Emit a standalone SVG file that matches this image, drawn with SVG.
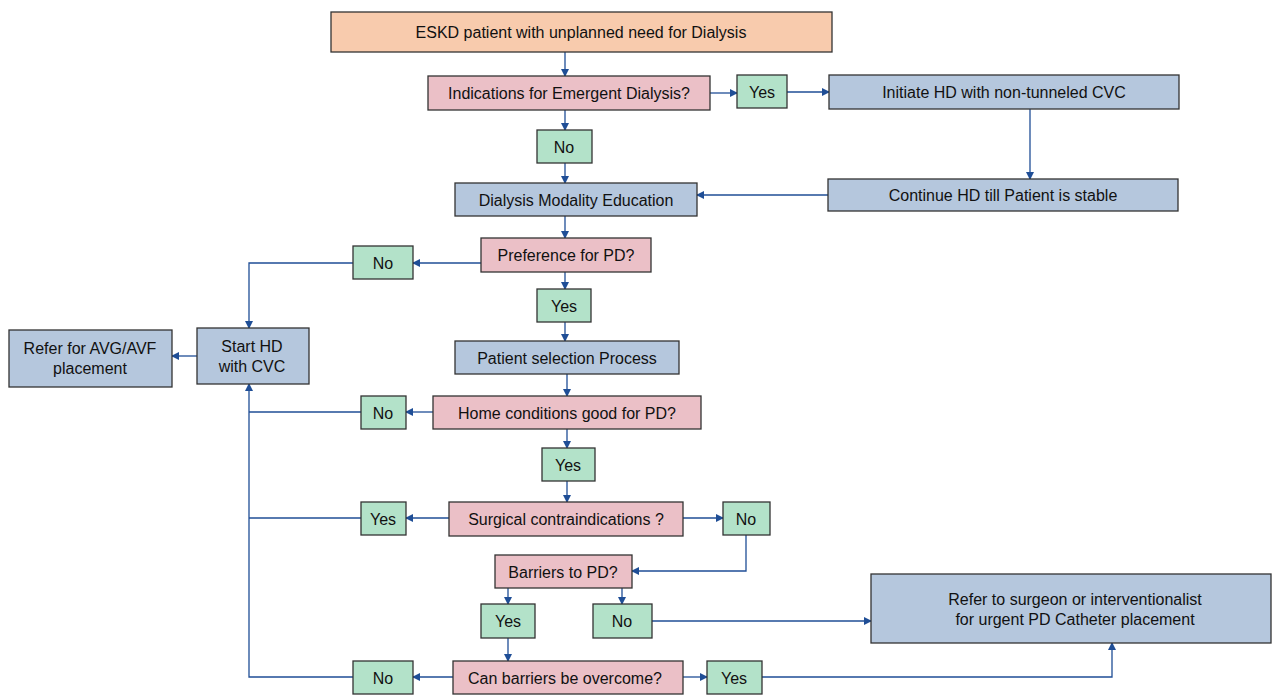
<svg xmlns="http://www.w3.org/2000/svg" width="1272" height="697" viewBox="0 0 1272 697">
<defs>
<marker id="ar" markerWidth="8" markerHeight="8" refX="7" refY="4" orient="auto" markerUnits="userSpaceOnUse">
<path d="M0,0 L8,4 L0,8 Z" fill="#1F4E96"/>
</marker>
<style>
rect{stroke:#333;stroke-width:1.3}
.pe{fill:#F8CBAD}.pk{fill:#EBC0C7}.gr{fill:#B3E2C9}.bl{fill:#B5C7DD}
text{font-family:"Liberation Sans",Arial,sans-serif;font-size:16px;fill:#111;text-anchor:middle;dominant-baseline:central}
.c path{fill:none;stroke:#1F4E96;stroke-width:1.3}
.c .a{marker-end:url(#ar)}
</style>
</defs>
<rect width="1272" height="697" fill="#fff" style="stroke:none"/>
<g class="c" id="connectors">
<path class="a" d="M565,52 V76"/>
<path class="a" d="M710,93 H737"/>
<path class="a" d="M787,92 H829"/>
<path class="a" d="M565,110 V130"/>
<path class="a" d="M565,163 V183"/>
<path class="a" d="M1030,109 V179"/>
<path class="a" d="M828,195 H697"/>
<path class="a" d="M565,216 V238"/>
<path class="a" d="M481,263 H413"/>
<path class="a" d="M353,263 H249 V328"/>
<path class="a" d="M565,272 V289"/>
<path class="a" d="M565,322 V341"/>
<path class="a" d="M197,356 H172"/>
<path class="a" d="M567,374 V396"/>
<path class="a" d="M433,412 H406"/>
<path d="M361,412 H249"/>
<path class="a" d="M567,429 V448"/>
<path class="a" d="M567,481 V502"/>
<path class="a" d="M449,518 H406"/>
<path d="M361,518 H249"/>
<path class="a" d="M683,518 H723"/>
<path class="a" d="M746,535 V571 H632"/>
<path class="a" d="M508,588 V604"/>
<path class="a" d="M622,588 V604"/>
<path class="a" d="M652,621 H871"/>
<path class="a" d="M508,638 V661"/>
<path class="a" d="M453,677 H413"/>
<path class="a" d="M353,677 H249 V384"/>
<path class="a" d="M683,677 H707"/>
<path class="a" d="M762,677 H1112 V643"/>
</g>
<g id="n_start"><rect class="pe" x="331" y="12" width="501" height="40"/><text x="581" y="32">ESKD patient with unplanned need for Dialysis</text></g>
<g id="n_ind"><rect class="pk" x="428" y="76" width="282" height="34"/><text x="569" y="93">Indications for Emergent Dialysis?</text></g>
<g id="n_yes1"><rect class="gr" x="737" y="75" width="50" height="33"/><text x="762" y="92">Yes</text></g>
<g id="n_init"><rect class="bl" x="829" y="75" width="350" height="34"/><text x="1004" y="92">Initiate HD with non-tunneled CVC</text></g>
<g id="n_no1"><rect class="gr" x="537" y="130" width="55" height="33"/><text x="564" y="147">No</text></g>
<g id="n_dme"><rect class="bl" x="455" y="183" width="242" height="33"/><text x="576" y="200">Dialysis Modality Education</text></g>
<g id="n_cont"><rect class="bl" x="828" y="179" width="350" height="32"/><text x="1003" y="195">Continue HD till Patient is stable</text></g>
<g id="n_pref"><rect class="pk" x="481" y="238" width="170" height="34"/><text x="566" y="255">Preference for PD?</text></g>
<g id="n_no2"><rect class="gr" x="353" y="246" width="60" height="33"/><text x="383" y="263">No</text></g>
<g id="n_yes2"><rect class="gr" x="537" y="289" width="54" height="33"/><text x="564" y="306">Yes</text></g>
<g id="n_starthd"><rect class="bl" x="197" y="328" width="112" height="56"/><text x="252" y="346">Start HD</text><text x="252" y="366">with CVC</text></g>
<g id="n_refavg"><rect class="bl" x="9" y="330" width="163" height="57"/><text x="90" y="348">Refer for AVG/AVF</text><text x="90" y="368">placement</text></g>
<g id="n_psp"><rect class="bl" x="455" y="341" width="224" height="33"/><text x="567" y="358">Patient selection Process</text></g>
<g id="n_home"><rect class="pk" x="433" y="396" width="268" height="33"/><text x="567" y="413">Home conditions good for PD?</text></g>
<g id="n_no3"><rect class="gr" x="361" y="396" width="45" height="33"/><text x="383" y="413">No</text></g>
<g id="n_yes3"><rect class="gr" x="542" y="448" width="53" height="33"/><text x="568" y="465">Yes</text></g>
<g id="n_surg"><rect class="pk" x="449" y="502" width="234" height="34"/><text x="566" y="519">Surgical contraindications ?</text></g>
<g id="n_yes4"><rect class="gr" x="361" y="502" width="45" height="33"/><text x="383" y="519">Yes</text></g>
<g id="n_no4"><rect class="gr" x="723" y="502" width="47" height="33"/><text x="746" y="519">No</text></g>
<g id="n_barr"><rect class="pk" x="495" y="555" width="137" height="33"/><text x="563" y="572">Barriers to PD?</text></g>
<g id="n_yes5"><rect class="gr" x="481" y="604" width="54" height="34"/><text x="508" y="621">Yes</text></g>
<g id="n_no5"><rect class="gr" x="593" y="604" width="59" height="34"/><text x="622" y="621">No</text></g>
<g id="n_refsurg"><rect class="bl" x="871" y="574" width="400" height="69"/><text x="1075" y="599">Refer to surgeon or interventionalist</text><text x="1075" y="619">for urgent PD Catheter placement</text></g>
<g id="n_can"><rect class="pk" x="453" y="661" width="230" height="33"/><text x="565" y="678">Can barriers be overcome?</text></g>
<g id="n_no6"><rect class="gr" x="353" y="661" width="60" height="33"/><text x="383" y="678">No</text></g>
<g id="n_yes6"><rect class="gr" x="707" y="661" width="55" height="33"/><text x="734" y="678">Yes</text></g>
</svg>
